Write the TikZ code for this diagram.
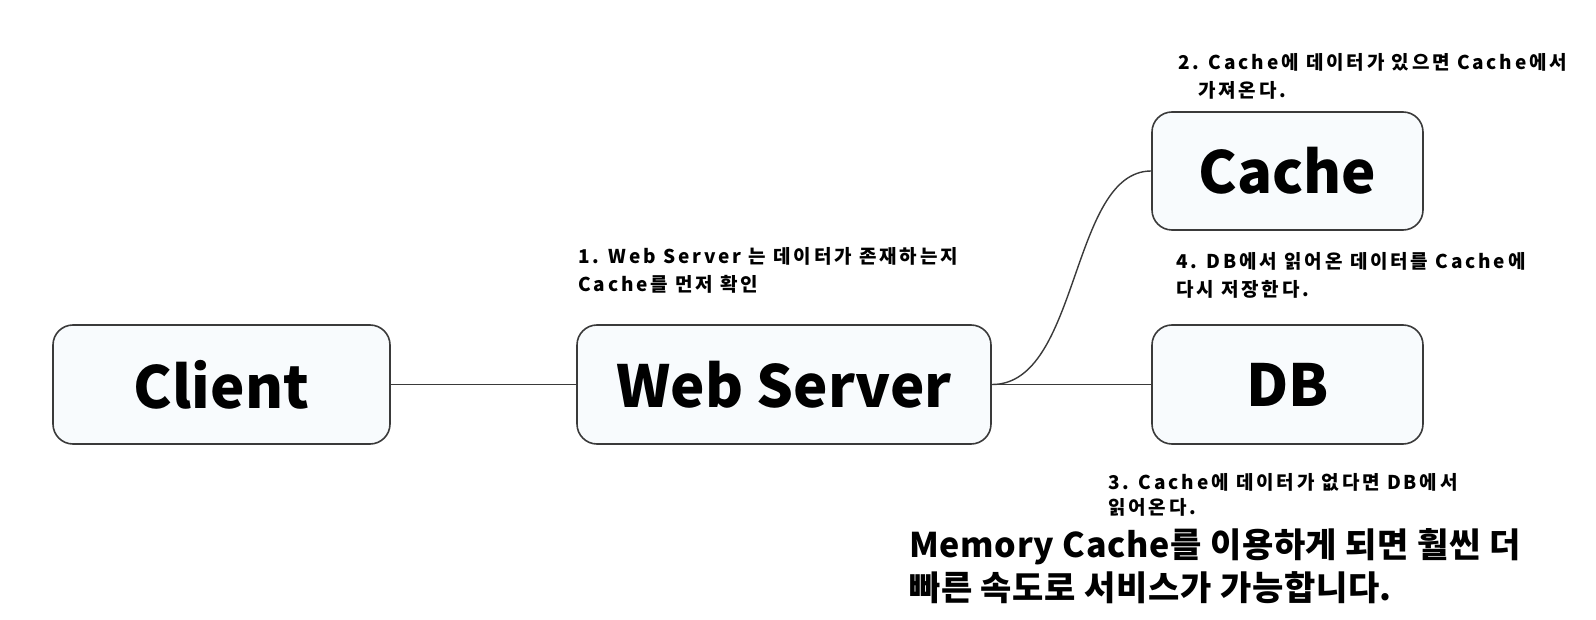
\documentclass[tikz,border=0pt]{standalone}
\usepackage{fontspec}
\setmainfont{Noto Sans CJK KR}
\newfontfamily\lblfont{Noto Sans CJK KR}[LetterSpace=15]
\newfontfamily\bigfont{Noto Sans CJK KR}[LetterSpace=2]
\definecolor{boxfill}{HTML}{F8FBFD}
\definecolor{edge}{HTML}{3A3A3A}
\begin{document}
\begin{tikzpicture}[x=1pt,y=-1pt,
  box/.style={draw=edge, line width=1.6pt, rounded corners=20pt, fill=boxfill,
    inner sep=0pt, font=\fontsize{58}{60}\selectfont\bfseries},
  lbl/.style={anchor=west, align=left, inner sep=0pt, font=\lblfont\fontsize{19}{28}\selectfont\bfseries},
  big/.style={anchor=west, align=left, inner sep=0pt, font=\bigfont\fontsize{34}{43}\selectfont\bfseries},
  conn/.style={draw=edge, line width=1.4pt}]
\useasboundingbox (0,0) rectangle (1596,620);
\node[box, minimum width=337pt, minimum height=119pt] (client) at (221.5,384.5) {Client};
\node[box, minimum width=414pt, minimum height=119pt] (web) at (784,384.5) {Web Server};
\node[box, minimum width=271pt, minimum height=118pt] (cache) at (1287.5,171) {Cache};
\node[box, minimum width=271pt, minimum height=119pt] (db) at (1287.5,384.5) {DB};
\draw[conn] (client.east) -- (web.east -| web.west);
\draw[conn] (web.east) -- (db.west);
\draw[conn] (web.east) .. controls (1080,385) and (1070,171) .. (cache.west);
\node[lbl] (l1) at (578,270.5) {1. Web Server 는 데이터가 존재하는지\\Cache를 먼저 확인};
\node[lbl] (l2) at (1178,76.5) {2. Cache에 데이터가 있으면 Cache에서\\\hspace{20pt}가져온다.};
\node[lbl] (l4) at (1176,275) {4. DB에서 읽어온 데이터를 Cache에\\다시 저장한다.};
\node[lbl, font=\lblfont\fontsize{19}{25}\selectfont\bfseries] (l3) at (1108,494.5) {3. Cache에 데이터가 없다면 DB에서\\읽어온다.};
\node[big] (note) at (909,566.5) {Memory Cache를 이용하게 되면 훨씬 더\\빠른 속도로 서비스가 가능합니다.};
\end{tikzpicture}
\end{document}
